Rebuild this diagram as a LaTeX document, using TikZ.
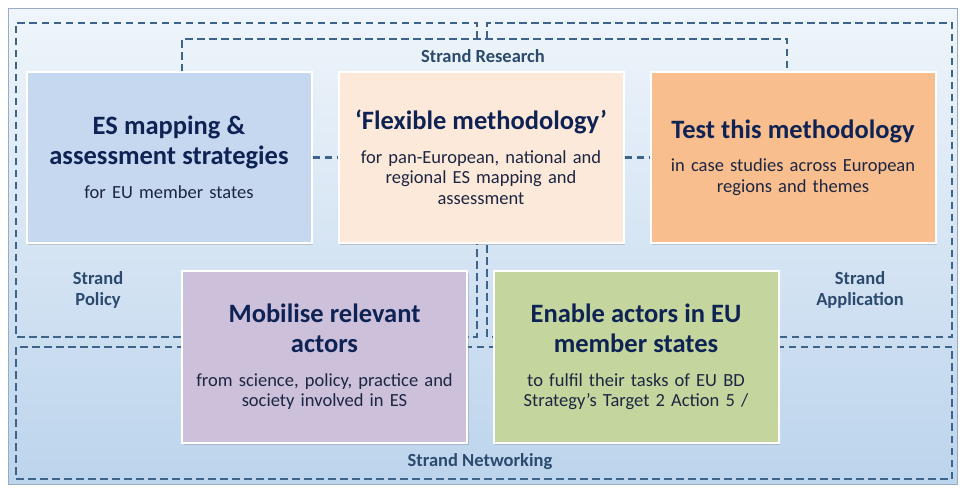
\documentclass[tikz,border=0pt]{standalone}
\usepackage{fontspec}
\setmainfont{Carlito}
\usetikzlibrary{shadows}
\definecolor{bgtop}{RGB}{239,245,251}
\definecolor{bgbot}{RGB}{188,212,236}
\definecolor{framec}{RGB}{150,172,196}
\definecolor{strandc}{RGB}{62,100,140}
\definecolor{labc}{RGB}{44,74,110}
\definecolor{navy}{RGB}{14,34,84}
\definecolor{subc}{RGB}{28,38,66}
\definecolor{esblue}{RGB}{198,216,239}
\definecolor{flexpeach}{RGB}{253,233,217}
\definecolor{testorange}{RGB}{249,190,142}
\definecolor{moblilac}{RGB}{204,192,218}
\definecolor{enabgreen}{RGB}{196,214,157}
\newcommand{\boxtitle}{\fontsize{26.5}{30}\selectfont\bfseries\color{navy}}
\newcommand{\boxsub}{\fontsize{18.5}{20.5}\selectfont}
\newcommand{\strandfont}{\fontsize{18.5}{21}\selectfont\bfseries}
\tikzstyle{strand} = [strandc, line width=2.6pt, dash pattern=on 7.5pt off 4.5pt]
\tikzstyle{box} = [draw=white, line width=2pt, text width=271pt, inner sep=7pt,
   minimum height=171pt, align=center, font=\boxsub, text=subc,
   drop shadow={shadow xshift=1.5pt, shadow yshift=-2pt, opacity=0.35}]
\tikzstyle{lbl} = [labc, font=\strandfont, align=center]
\begin{document}
\begin{tikzpicture}[x=1pt, y=-1pt]
  \useasboundingbox (0,0) rectangle (962,489);
  % background panel
  \shade[top color=bgtop, bottom color=bgbot] (8,9) rectangle (957,484);
  \draw[framec, line width=1pt] (8,9) rectangle (957,484);

  % strands (drawn first, boxes cover them)
  \draw[strand] (477,39) -- (477,23) -- (16,23) -- (16,337) -- (477,337) -- (477,243);
  \draw[strand] (487,39) -- (487,23) -- (952,23) -- (952,337) -- (487,337) -- (487,243);
  \draw[strand] (182,72) -- (182,39) -- (787,39) -- (787,72);
  \draw[strand] (16,347) rectangle (952,479);

  % boxes
  \node[box, fill=esblue] (es) at (169,157.5)
    {{\boxtitle ES mapping \&\\ assessment strategies\par}\vspace{13pt}for EU member states};
  \node[box, fill=flexpeach] (flex) at (481,157.5)
    {{\boxtitle ‘Flexible methodology’\par}\vspace{13pt}for pan-European, national and\\ regional ES mapping and\\ assessment};
  \node[box, fill=testorange] (test) at (793,157.5)
    {{\boxtitle Test this methodology\par}\vspace{13pt}in case studies across European\\ regions and themes};
  \node[box, fill=moblilac] (mob) at (324.5,357)
    {{\boxtitle Mobilise relevant\\ actors\par}\vspace{13pt}from science, policy, practice and\\ society involved in ES};
  \node[box, fill=enabgreen] (enab) at (636,357)
    {{\boxtitle Enable actors in EU\\ member states\par}\vspace{13pt}to fulfil their tasks of EU BD\\ Strategy’s Target 2 Action 5 /};

  \draw[strand] (es) -- (flex);
  \draw[strand] (flex) -- (test);

  % strand labels
  \node[lbl] (lres) at (483,56) {Strand Research};
  \node[lbl] (lpol) at (98,290) {Strand\\ Policy};
  \node[lbl] (lapp) at (860,290) {Strand\\ Application};
  \node[lbl] (lnet) at (480,462) {Strand Networking};
\end{tikzpicture}
\end{document}
